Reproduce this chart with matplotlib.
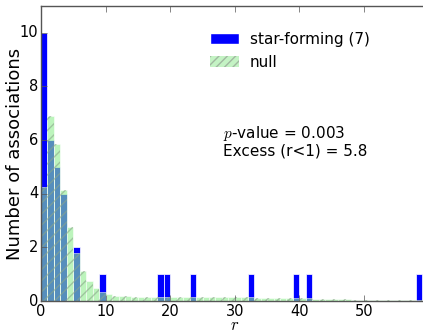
import numpy as np
import matplotlib
matplotlib.use("Agg")
import matplotlib.pyplot as plt
from matplotlib.patches import Patch

plt.style.use("classic")

# bins of width 1 in r
bins = np.arange(0, 60)

# star-forming associations (counts per bin)
sf_bins = [0, 1, 2, 3, 5, 9, 18, 19, 23, 32, 39, 41, 58]
sf_counts = [10, 6, 5, 4, 2, 1, 1, 1, 1, 1, 1, 1, 1]

# null expectation (per bin, first 12 bins read individually)
null_head = [4.25, 6.9, 5.85, 4.15, 2.75, 1.8, 1.13, 0.73, 0.48, 0.35, 0.25, 0.2]
null_mid = [0.18, 0.17, 0.16, 0.16, 0.15, 0.16, 0.15, 0.16, 0.16, 0.15, 0.15, 0.16,
            0.15, 0.15, 0.16, 0.15, 0.15, 0.14, 0.15, 0.14, 0.14, 0.13, 0.13, 0.12,
            0.12, 0.12, 0.11, 0.11, 0.1, 0.1, 0.09, 0.08]
null_tail = [0.07, 0.07, 0.06, 0.06, 0.05, 0.05, 0.04, 0.04, 0.03, 0.03, 0.03,
             0.02, 0.02, 0.02, 0.02, 0.01]
null_vals = null_head + null_mid + null_tail

sf = np.zeros(len(bins))
sf[sf_bins] = sf_counts
null = np.array(null_vals[:len(bins)])

fig = plt.figure(figsize=(4.23, 3.31), dpi=100)
ax = fig.add_axes([41 / 423, 30 / 331, 387.6 / 423, 295 / 331])

ax.bar(bins, sf, width=1.0, align="edge", color="#0000ff", edgecolor="white", linewidth=0.5)
ax.bar(bins, null, width=1.0, align="edge", color="#90ee90", alpha=0.6,
       edgecolor="white", linewidth=0.6)
ax.bar(bins, null, width=1.0, align="edge", facecolor="none", edgecolor="#8aa58a",
       linewidth=0, hatch="///", alpha=0.6)

ax.set_xlim(0, 60)
ax.set_ylim(0, 11)
ax.set_xticks([0, 10, 20, 30, 40, 50])
ax.set_yticks([0, 2, 4, 6, 8, 10])
ax.tick_params(labelsize=10.5, direction="in", length=4, color="#555555", pad=2)
for s in ax.spines.values():
    s.set_color("#555555")

ax.set_xlabel(r"$r$", fontsize=12, labelpad=-2)
ax.set_ylabel("Number of associations", fontsize=13, labelpad=-3)

handles = [Patch(facecolor="#0000ff", edgecolor="white"),
           Patch(facecolor="#c4f3c4", edgecolor="#a0b8a0", hatch="////", linewidth=0)]
ax.legend(handles, ["star-forming (7)", "null"], loc="upper left",
          bbox_to_anchor=(0.4, 0.96), frameon=False, fontsize=11,
          handlelength=1.9, handleheight=0.7, labelspacing=0.55, handletextpad=0.7)

ax.text(0.47, 0.6, r"$p$-value = 0.003" + "\nExcess (r<1) = 5.8", transform=ax.transAxes,
        fontsize=11, va="top", linespacing=1.0)

fig.savefig("out.png", dpi=100)
